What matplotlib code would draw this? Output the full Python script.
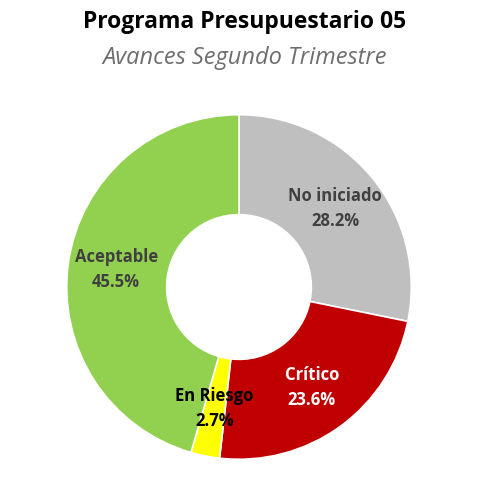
import numpy as np
import matplotlib
matplotlib.use('Agg')
from matplotlib import pyplot as plt

# Data
labels = ['No iniciado', 'Crítico', 'En Riesgo', 'Aceptable']
values = [28.2, 23.6, 2.7, 45.5]
colors = ['#bfbfbf', '#c00000', '#ffff00', '#92d050']
label_colors = ['#404040', '#ffffff', '#000000', '#404040']

plt.rcParams['font.family'] = ['Open Sans', 'DejaVu Sans']

fig = plt.figure(figsize=(4.9, 4.79), dpi=100)
ax = fig.add_axes([65 / 490, 18 / 479, 348 / 490, 348 / 479])

wedges, _ = ax.pie(values, colors=colors, startangle=90, counterclock=False,
                   radius=1.0, wedgeprops=dict(width=0.58, edgecolor='white', linewidth=1.2))

# labels inside the ring
for w, lab, v, c in zip(wedges, labels, values, label_colors):
    ang = np.deg2rad((w.theta1 + w.theta2) / 2)
    r = 0.72
    ax.text(r * np.cos(ang), r * np.sin(ang), f'{lab}\n{v:.1f}%', ha='center', va='center',
            fontsize=12, fontweight='bold', color=c, linespacing=1.55)

ax.set_xlim(-1.01, 1.01)
ax.set_ylim(-1.01, 1.01)
ax.set_aspect('equal')
ax.axis('off')

fig.text(0.5, 1 - 22 / 479, 'Programa Presupuestario 05', ha='center', va='center',
         fontsize=16.5, fontweight='bold', color='black')
fig.text(0.5, 1 - 58 / 479, 'Avances Segundo Trimestre', ha='center', va='center',
         fontsize=17, fontstyle='italic', color='#6e6e6e')

fig.savefig('out.png', dpi=100)
